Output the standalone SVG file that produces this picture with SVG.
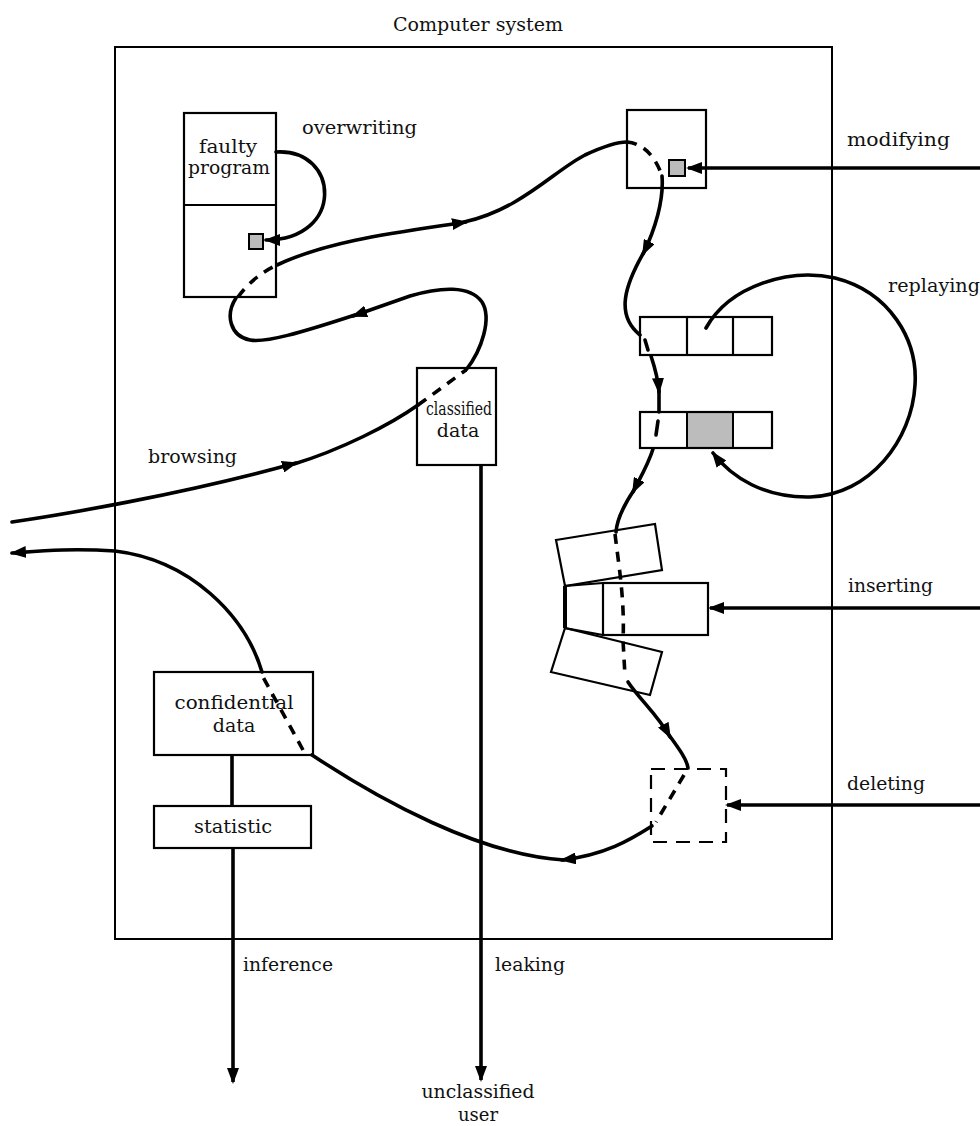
<svg xmlns="http://www.w3.org/2000/svg" width="980" height="1126" viewBox="0 0 980 1126">
<style>
text{font-family:"DejaVu Serif","Liberation Serif",serif;font-size:19px;fill:#111}
.sm{font-size:18px}
.box{fill:none;stroke:#000;stroke-width:2.2}
.frame{fill:none;stroke:#000;stroke-width:2}
.flow{fill:none;stroke:#000;stroke-width:3.6;stroke-linecap:round}
.dash{fill:none;stroke:#000;stroke-width:3.6;stroke-dasharray:10 8}
.in{fill:none;stroke:#000;stroke-width:3.6}
.shade{fill:#bcbcbc;stroke:#000;stroke-width:2}
</style>
<defs>
<marker id="ah" viewBox="0 0 16 12" refX="14" refY="6" markerWidth="16" markerHeight="12" markerUnits="userSpaceOnUse" orient="auto">
<path d="M0,0 L16,6 L0,12 z" fill="#000"/>
</marker>
</defs>
<text x="478" y="31" text-anchor="middle" textLength="170" lengthAdjust="spacingAndGlyphs">Computer system</text>
<rect id="frame" class="frame" x="115" y="47" width="717" height="892"/>
<g id="faulty-program">
<rect class="box" x="184" y="113" width="92" height="184"/>
<line class="box" x1="184" y1="205" x2="276" y2="205"/>
<rect class="shade" x="249" y="234" width="14" height="15"/>
<text x="228" y="153" text-anchor="middle" textLength="58" lengthAdjust="spacingAndGlyphs">faulty</text>
<text x="229" y="174" text-anchor="middle" textLength="82" lengthAdjust="spacingAndGlyphs">program</text>
</g>
<g id="modify-target">
<rect class="box" x="627" y="110" width="79" height="78"/>
<rect class="shade" x="669" y="160" width="16" height="16"/>
</g>
<g id="register-1">
<rect class="box" x="640" y="317" width="132" height="38"/>
<line class="box" x1="687" y1="317" x2="687" y2="355"/>
<line class="box" x1="733" y1="317" x2="733" y2="355"/>
</g>
<g id="register-2">
<rect class="shade" x="687" y="412" width="46" height="36"/>
<rect class="box" x="640" y="412" width="132" height="36"/>
</g>
<g id="classified-data">
<rect class="box" x="417" y="368" width="79" height="97"/>
<text x="459" y="415" text-anchor="middle" textLength="66" lengthAdjust="spacingAndGlyphs">classified</text>
<text x="458" y="437" text-anchor="middle">data</text>
</g>
<g id="inserted-blocks">
<polygon class="box" points="556,540 655,524 662,570 565,586"/>
<rect class="box" x="603" y="583" width="105" height="52"/>
<polyline class="box" points="603,583 565,586 565,628 603,635"/>
<line x1="565" y1="586" x2="565" y2="628" stroke="#000" stroke-width="4"/>
<polygon class="box" points="565,628 662,652 650,695 551,672"/>
</g>
<g id="deleted-block">
<rect class="box" x="651" y="769" width="75" height="73" stroke-dasharray="14 9"/>
</g>
<g id="confidential-data">
<rect class="box" x="154" y="672" width="159" height="83"/>
<text x="234" y="709" text-anchor="middle" textLength="119" lengthAdjust="spacingAndGlyphs">confidential</text>
<text x="234" y="732" text-anchor="middle">data</text>
</g>
<g id="statistic">
<rect class="box" x="154" y="806" width="157" height="42"/>
<text x="233" y="833" text-anchor="middle" textLength="78" lengthAdjust="spacingAndGlyphs">statistic</text>
</g>
<g id="connectors">
<path class="flow" d="M12,522 C60,515 180,495 296,463" marker-end="url(#ah)"/>
<path class="flow" d="M294,464 C340,450 390,425 418,405"/>
<path class="dash" d="M418,405 C435,393 452,380 466,370"/>
<path class="flow" d="M466,370 C482,350 492,318 482,302 C470,285 440,287 410,296 L353,316" marker-end="url(#ah)"/>
<path class="flow" d="M355,315 C300,333 265,343 250,340 C230,336 225,315 236,298"/>
<path class="dash" d="M238,297 C248,283 262,272 277,265"/>
<path class="flow" d="M277,265 C330,240 400,232 466,222" marker-end="url(#ah)"/>
<path class="flow" d="M464,222 C520,210 555,170 585,155 C600,148 615,142 627,142"/>
<path class="dash" d="M627,142 C642,143 655,155 662,176"/>
<path class="flow" d="M662,176 C664,200 655,230 643,254" marker-end="url(#ah)"/>
<path class="flow" d="M644,252 C625,285 615,315 640,335"/>
<path class="flow" d="M645,340 L648,350"/>
<path class="flow" d="M651,356 C655,368 658,378 659,392" marker-end="url(#ah)"/>
<path class="flow" d="M659,390 L659,412"/>
<path class="flow" d="M658,421 L656,435"/>
<path class="flow" d="M653,449 C648,465 640,478 633,492" marker-end="url(#ah)"/>
<path class="flow" d="M634,490 C624,505 617,518 616,532"/>
<path class="dash" d="M615,534 C618,560 625,600 623,640 L625,676" stroke-dasharray="12 8"/>
<path class="flow" d="M628,682 C640,700 658,715 670,737" marker-end="url(#ah)"/>
<path class="flow" d="M669,735 C680,750 687,760 688,768"/>
<path class="dash" d="M684,775 L656,822"/>
<path class="flow" d="M652,826 C630,840 605,855 562,860" marker-end="url(#ah)"/>
<path class="flow" d="M564,860 C480,855 380,800 312,755"/>
<path class="dash" d="M303,750 L263,677"/>
<path class="flow" d="M262,672 C245,615 190,560 115,551 C70,548 40,551 12,553" marker-end="url(#ah)"/>
<path class="flow" d="M276,152 C340,148 345,240 266,240" marker-end="url(#ah)"/>
<path class="flow" d="M706,328 C730,285 790,268 835,278 C890,292 918,340 915,385 C912,440 870,495 810,497 C765,498 732,478 713,453" marker-end="url(#ah)"/>
<path class="in" d="M980,168 L688,168" marker-end="url(#ah)"/>
<path class="in" d="M980,608 L710,608" marker-end="url(#ah)"/>
<path class="in" d="M980,805 L727,805" marker-end="url(#ah)"/>
<path class="in" d="M481,465 L481,1080" marker-end="url(#ah)"/>
<path class="in" d="M232,755 L232,806"/>
<path class="in" d="M233,848 L233,1082" marker-end="url(#ah)"/>
</g>
<g id="labels">
<text x="302" y="134" textLength="115" lengthAdjust="spacingAndGlyphs">overwriting</text>
<text x="847" y="146" textLength="103" lengthAdjust="spacingAndGlyphs">modifying</text>
<text x="888" y="292" textLength="92" lengthAdjust="spacingAndGlyphs">replaying</text>
<text x="148" y="463" textLength="89" lengthAdjust="spacingAndGlyphs">browsing</text>
<text x="848" y="592" textLength="85" lengthAdjust="spacingAndGlyphs">inserting</text>
<text x="847" y="790" textLength="78" lengthAdjust="spacingAndGlyphs">deleting</text>
<text x="243" y="971" textLength="90" lengthAdjust="spacingAndGlyphs">inference</text>
<text x="495" y="971" textLength="70" lengthAdjust="spacingAndGlyphs">leaking</text>
<text class="sm" x="478" y="1098" text-anchor="middle" textLength="113" lengthAdjust="spacingAndGlyphs">unclassified</text>
<text class="sm" x="478" y="1121" text-anchor="middle">user</text>
</g>
</svg>
